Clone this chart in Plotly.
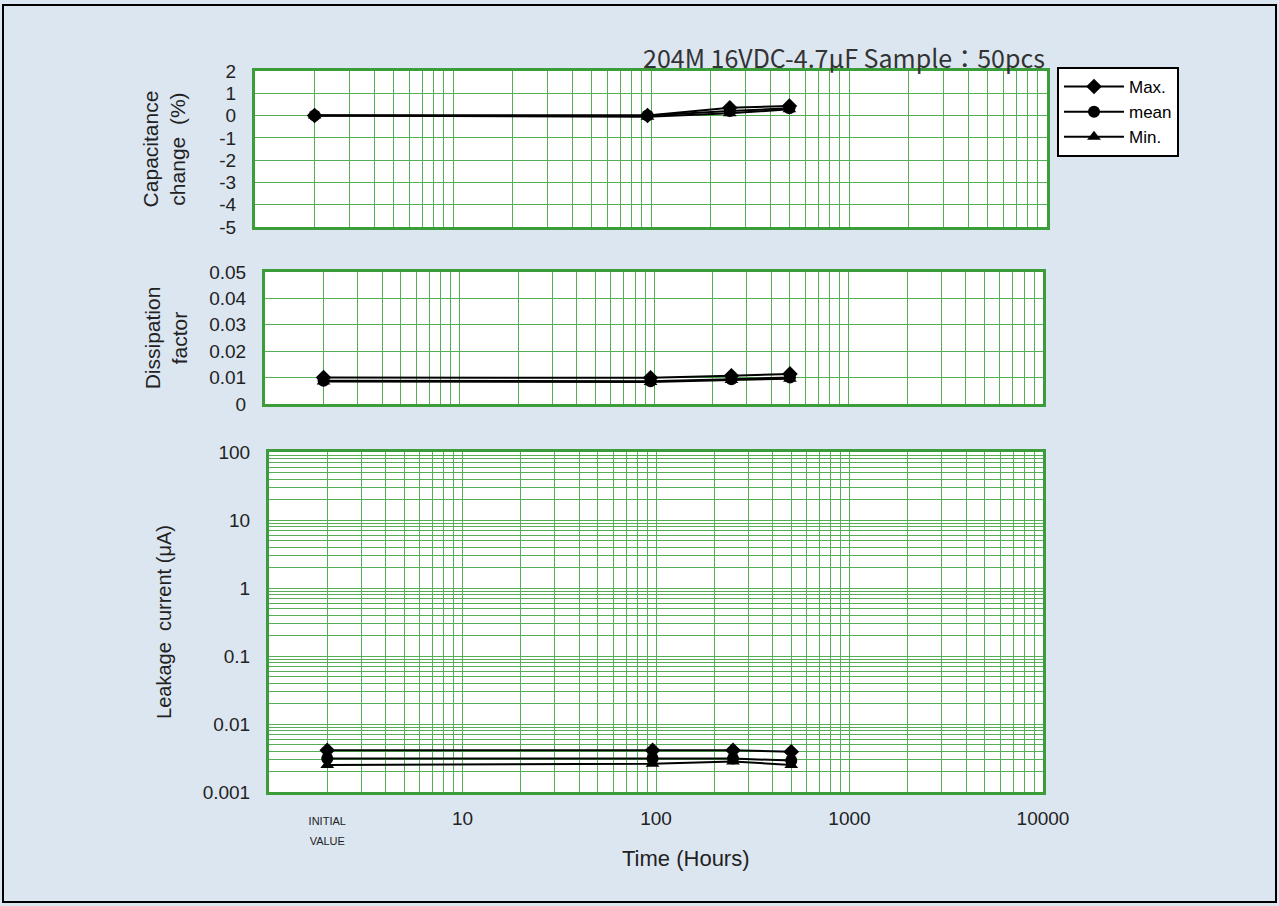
import plotly.graph_objects as go

# ---------------- data ----------------
# x slot "2" is where the INITIAL VALUE column is drawn on the log time axis
time_points = [2, 96, 250, 500]

cap_max = [0.0, 0.0, 0.35, 0.43]
cap_mean = [0.0, 0.0, 0.2, 0.33]
cap_min = [0.0, -0.05, 0.1, 0.28]

df_max = [0.0100, 0.0099, 0.0107, 0.0114]
df_mean = [0.0088, 0.0086, 0.0094, 0.0100]
df_min = [0.0085, 0.0083, 0.0091, 0.0096]

lc_max = [0.0041, 0.0041, 0.0041, 0.0039]
lc_mean = [0.0031, 0.0031, 0.0031, 0.0029]
lc_min = [0.0025, 0.0026, 0.0028, 0.0025]

series_names = ["Max.", "mean", "Min."]
series_symbols = ["diamond", "circle", "triangle-up"]

x_tick_vals = [2, 10, 100, 1000, 10000]
x_tick_text = ["<span style='font-size:11px'>INITIAL</span><br><span style='font-size:11px'>VALUE</span>",
               "<span style='font-size:19px'>10</span>",
               "<span style='font-size:19px'>100</span>",
               "<span style='font-size:19px'>1000</span>",
               "<span style='font-size:19px'>10000</span>"]

cap_tick_vals = [-5, -4, -3, -2, -1, 0, 1, 2]
cap_tick_text = ["-5", "-4", "-3", "-2", "-1", "0", "1", "2"]
df_tick_vals = [0, 0.01, 0.02, 0.03, 0.04, 0.05]
df_tick_text = ["0", "0.01", "0.02", "0.03", "0.04", "0.05"]
lc_label_vals = [0.001, 0.01, 0.1, 1, 10, 100]
lc_label_text = ["0.001", "0.01", "0.1", "1", "10", "100"]

title_text = "204M 16VDC-4.7μF Sample：50pcs"
x_title_text = "Time (Hours)"

# ---------------- styling ----------------
W, H = 1279, 906
BG = "#DCE6F1"
BORDER = "#3A9D3A"
GRID = "#55AE55"
FONT = "Liberation Sans, Arial, sans-serif"
TICK_FONT = dict(family=FONT, size=19, color="#222")
TITLE_FONT = dict(family=FONT, size=21, color="#222")


def px_x(a, b):
    return [a / W, b / W]


def px_y(top, bottom):
    return [1 - bottom / H, 1 - top / H]


def log_grid(e_lo, e_hi):
    """Positions 1..9 x 10^e of the log graph-paper grid."""
    vals = [d * 10.0 ** e for e in range(e_lo, e_hi) for d in range(1, 10)]
    return vals + [10.0 ** e_hi]


x_grid = log_grid(0, 4)
y_grid = log_grid(-3, 2)
y_grid_text = []
for v in y_grid:
    match = [t for lv, t in zip(lc_label_vals, lc_label_text) if abs(lv - v) < 1e-12 * max(1, v)]
    y_grid_text.append(match[0] if match else "")

fig = go.Figure()

panels = [
    ("x", "y", [cap_max, cap_mean, cap_min]),
    ("x2", "y2", [df_max, df_mean, df_min]),
    ("x3", "y3", [lc_max, lc_mean, lc_min]),
]
for pi, (xa, ya, vals) in enumerate(panels):
    for name, sym, v in zip(series_names, series_symbols, vals):
        fig.add_trace(go.Scatter(
            x=time_points, y=v, mode="lines+markers", name=name,
            legendgroup=name, showlegend=(pi == 0),
            marker=dict(symbol=sym, size=12, color="black"),
            line=dict(color="black", width=2),
            xaxis=xa, yaxis=ya, cliponaxis=False,
        ))

# invisible carrier so the labelled time axis (x4) is drawn
fig.add_trace(go.Scatter(x=time_points, y=lc_mean, mode="markers", marker=dict(opacity=0),
                         xaxis="x4", yaxis="y3", showlegend=False, hoverinfo="skip"))

xcommon = dict(type="log", range=[0, 4], tickmode="array", tickvals=x_grid,
               showgrid=True, gridcolor=GRID, gridwidth=1,
               showticklabels=False, ticks="", zeroline=False,
               automargin=False, showline=True, linecolor=BORDER, linewidth=3, mirror=True)

ycommon = dict(showgrid=True, gridcolor=GRID, gridwidth=1, zeroline=False,
               automargin=False, showline=True, linecolor=BORDER, linewidth=3, mirror=True,
               ticks="", ticklabelstandoff=12, tickfont=TICK_FONT, title_font=TITLE_FONT,
               tickmode="array")

fig.update_layout(
    template="none",
    width=W, height=H,
    margin=dict(l=0, r=0, t=0, b=0, autoexpand=False),
    paper_bgcolor=BG, plot_bgcolor="white",
    font=dict(family=FONT, color="#222"),
    xaxis=dict(xcommon, domain=px_x(255, 1047), anchor="y"),
    yaxis=dict(ycommon, domain=px_y(71, 227), anchor="x", range=[-5, 2],
               tickvals=cap_tick_vals, ticktext=cap_tick_text,
               title=dict(text="Capacitance<br>change  (%)", standoff=28)),
    xaxis2=dict(xcommon, domain=px_x(265, 1043), anchor="y2"),
    yaxis2=dict(ycommon, domain=px_y(272, 404), anchor="x2", range=[0, 0.05],
                tickvals=df_tick_vals, ticktext=df_tick_text,
                title=dict(text="Dissipation<br>factor", standoff=16)),
    xaxis3=dict(xcommon, domain=px_x(269, 1043), anchor="y3"),
    yaxis3=dict(ycommon, domain=px_y(452, 792), anchor="x3", type="log", range=[-3, 2],
                tickvals=y_grid, ticktext=y_grid_text,
                title=dict(text="Leakage  current (μA)", standoff=26,
                           font=dict(family=FONT, size=20, color="#222"))),
    xaxis4=dict(type="log", range=[0, 4], domain=px_x(269, 1043), anchor="y3", overlaying="x3",
                side="bottom", tickmode="array", tickvals=x_tick_vals, ticktext=x_tick_text,
                showgrid=False, showline=False, zeroline=False, ticks="", automargin=False,
                ticklabelstandoff=17, tickfont=dict(family=FONT, size=15, color="#222")),
    legend=dict(x=1057 / W, y=1 - 67 / H, xanchor="left", yanchor="top",
                bgcolor="white", bordercolor="black", borderwidth=2,
                font=dict(family=FONT, size=17, color="black"), tracegroupgap=0,
                itemwidth=60),
    showlegend=True,
)

fig.add_annotation(text=title_text, xref="paper", yref="paper", x=1047 / W, y=1 - 57 / H,
                   xanchor="right", yanchor="middle", showarrow=False,
                   font=dict(family="Noto Sans CJK JP, sans-serif", size=25, color="#333"))

fig.add_annotation(text=x_title_text, xref="paper", yref="paper", x=686 / W, y=1 - 858 / H,
                   xanchor="center", yanchor="middle", showarrow=False,
                   font=dict(family=FONT, size=22, color="#222"))

fig.add_shape(type="rect", xref="paper", yref="paper", x0=3 / W, x1=1276 / W,
              y0=1 - 902 / H, y1=1 - 5 / H, line=dict(color="black", width=2),
              fillcolor="rgba(0,0,0,0)", layer="above")

fig.write_html("out.html", config={"displayModeBar": False},
               post_script="document.body.style.margin='0';")
